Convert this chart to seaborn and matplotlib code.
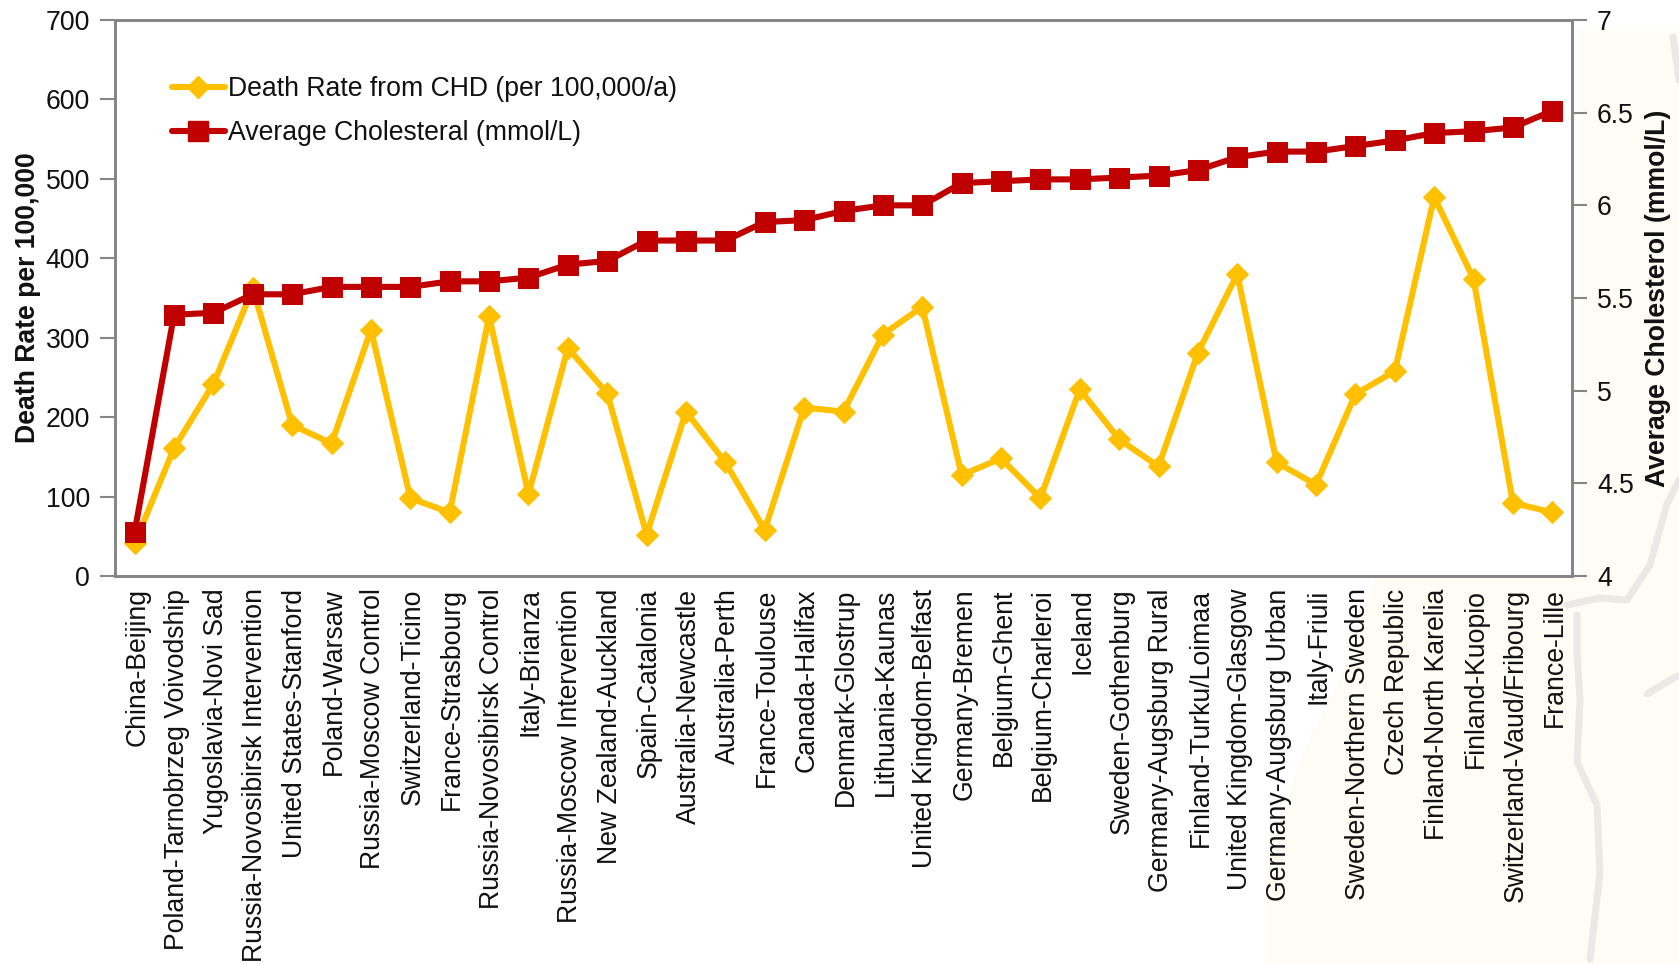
import matplotlib
matplotlib.use("Agg")
import matplotlib.pyplot as plt
import matplotlib.transforms as mtrans
import seaborn as sns
import pandas as pd
from matplotlib.lines import Line2D
from matplotlib.patches import Polygon

sites = ["China-Beijing","Poland-Tarnobrzeg Voivodship","Yugoslavia-Novi Sad","Russia-Novosibirsk Intervention",
"United States-Stanford","Poland-Warsaw","Russia-Moscow Control","Switzerland-Ticino","France-Strasbourg",
"Russia-Novosibirsk Control","Italy-Brianza","Russia-Moscow Intervention","New Zealand-Auckland","Spain-Catalonia",
"Australia-Newcastle","Australia-Perth","France-Toulouse","Canada-Halifax","Denmark-Glostrup","Lithuania-Kaunas",
"United Kingdom-Belfast","Germany-Bremen","Belgium-Ghent","Belgium-Charleroi","Iceland","Sweden-Gothenburg",
"Germany-Augsburg Rural","Finland-Turku/Loimaa","United Kingdom-Glasgow","Germany-Augsburg Urban","Italy-Friuli",
"Sweden-Northern Sweden","Czech Republic","Finland-North Karelia","Finland-Kuopio","Switzerland-Vaud/Fribourg","France-Lille"]
death_rate = [41,161,242,362,190,167,310,98,80,327,103,287,230,52,207,143,58,212,207,304,339,127,148,98,235,172,138,281,380,143,115,229,258,477,374,92,80]
cholesterol = [4.24,5.41,5.42,5.52,5.52,5.56,5.56,5.56,5.59,5.59,5.61,5.68,5.70,5.81,5.81,5.81,5.91,5.92,5.97,6.00,6.00,6.12,6.13,6.14,6.14,6.15,6.16,6.19,6.26,6.29,6.29,6.32,6.35,6.39,6.40,6.42,6.51]
death_ticks = [0,100,200,300,400,500,600,700]
chol_ticks = [4,4.5,5,5.5,6,6.5,7]
chol_tick_labels = ["4","4.5","5","5.5","6","6.5","7"]

sns.set_style("white")
plt.rcParams['font.family'] = ['Liberation Sans','DejaVu Sans']
W,H = 1679,964
fig = plt.figure(figsize=(W/100,H/100),dpi=100,facecolor="white")

def px(pts):
    return [(x/W,1-y/H) for x,y in pts]
fig.add_artist(Polygon(px([(1375,578),(1580,578),(1580,30),(1679,30),(1679,964),(1266,964),(1266,860),(1300,760),(1340,680)]),
    closed=True,transform=fig.transFigure,fc="#fffbf5",ec="none",zorder=-5))
for path in ([(1567,605),(1600,598),(1627,600),(1650,565),(1667,504),(1679,480)],
             [(1577,615),(1577,651),(1580,700),(1577,762),(1597,805),(1600,873),(1590,959)],
             [(1647,694),(1677,676)],
             [(1673,37),(1679,80)]):
    fig.add_artist(Line2D(*zip(*px(path)),transform=fig.transFigure,color="#ebe8e5",lw=5,zorder=-4))

df = pd.DataFrame({"site":sites,"death":death_rate,"chol":cholesterol})
L,R,T,B = 115,1572,20,576
ax = fig.add_axes([L/W,1-B/H,(R-L)/W,(B-T)/H])
ax.set_facecolor("white")
YEL,RED,GR,INK = "#FFC000","#C00000","#868686","#111111"
FS = 19.2
sns.lineplot(data=df,x="site",y="death",ax=ax,color=YEL,lw=4.4,marker="D",ms=11,mec=YEL,sort=False,errorbar=None,legend=False)
ax2 = ax.twinx()
sns.lineplot(data=df,x="site",y="chol",ax=ax2,color=RED,lw=4.4,marker="s",ms=14,mec=RED,sort=False,errorbar=None,legend=False)
ax.set_xlim(-0.5,len(sites)-0.5)
ax.set_ylim(0,700); ax2.set_ylim(4,7)
ax.set_yticks(death_ticks); ax2.set_yticks(chol_ticks); ax2.set_yticklabels(chol_tick_labels)
ax.set_xticks([i-0.5 for i in range(len(sites)+1)],minor=True)
ax.set_xticks(range(len(sites)))
ax.set_xticklabels(sites,rotation=90,fontsize=FS,color=INK)
ax.tick_params(axis="x",which="major",length=0,pad=9)
ax.tick_params(axis="x",which="minor",length=7,width=1.5,color=GR)
ax.tick_params(axis="y",length=11,width=1.5,color=GR,labelsize=FS,labelcolor=INK,pad=7,left=True)
ax2.tick_params(axis="y",length=11,width=1.5,color=GR,labelsize=FS,labelcolor=INK,pad=7,right=True)
shift = mtrans.ScaledTranslation(2.5/100,0,fig.dpi_scale_trans)
for lab in ax.get_xticklabels():
    lab.set_transform(lab.get_transform()+shift)
for a in (ax,ax2):
    for s in a.spines.values():
        s.set_color(GR); s.set_linewidth(2)
        s.set_visible(True)
ax.set_xlabel(""); ax2.set_xlabel("")
ax.set_ylabel(""); ax2.set_ylabel("")
fig.text(28/W,1-298/H,"Death Rate per 100,000",rotation=90,ha="center",va="center",fontsize=FS,fontweight="bold",color=INK)
fig.text(1658/W,1-298/H,"Average Cholesterol (mmol/L)",rotation=90,ha="center",va="center",fontsize=FS,fontweight="bold",color=INK)
h = [Line2D([],[],color=YEL,lw=4.4,marker="D",ms=11,mec=YEL),Line2D([],[],color=RED,lw=4.4,marker="s",ms=14,mec=RED)]
ax2.legend(h,["Death Rate from CHD (per 100,000/a)","Average Cholesteral (mmol/L)"],loc="upper left",
 bbox_to_anchor=(0.0225,0.942),frameon=False,fontsize=19.2,handlelength=2.0,handletextpad=0.12,labelspacing=0.68,labelcolor=INK)
fig.savefig("out.png",dpi=100,facecolor=fig.get_facecolor())
